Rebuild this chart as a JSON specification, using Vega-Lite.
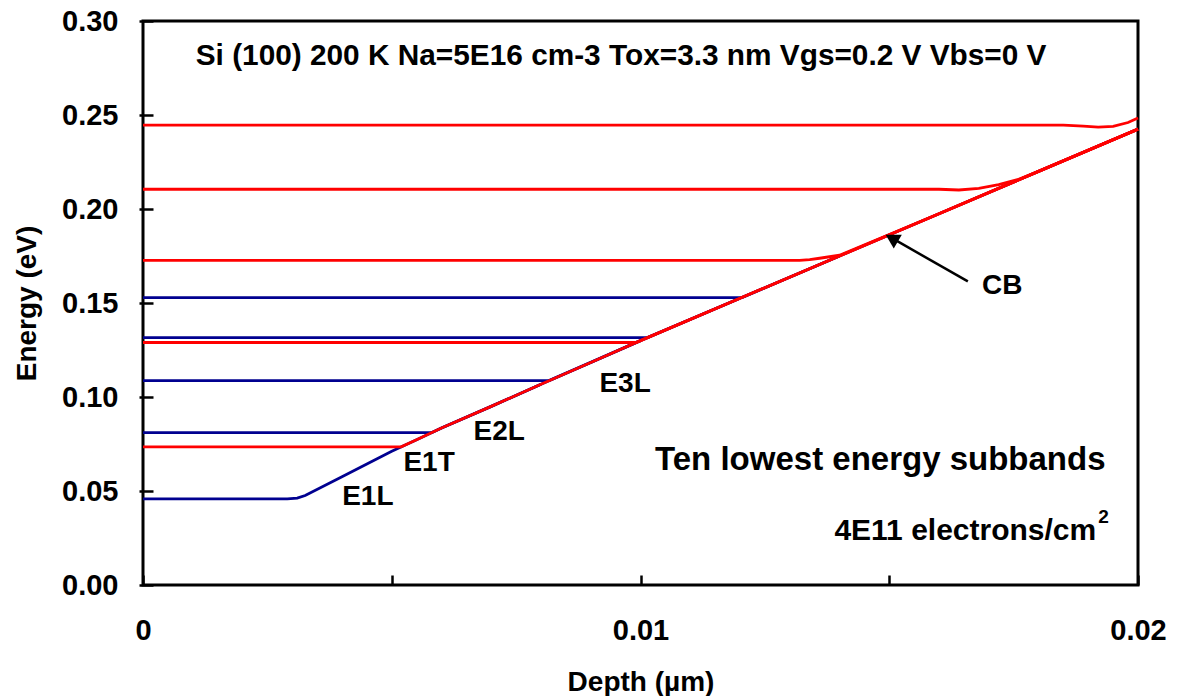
{
  "$schema": "https://vega.github.io/schema/vega-lite/v6.json",
  "autosize": {"type": "none"},
  "padding": {"left": 143, "top": 21, "right": 49, "bottom": 111},
  "width": 995,
  "height": 564,
  "config": {
    "font": "Liberation Sans",
    "view": {"stroke": "black", "strokeWidth": 3},
    "axis": {"grid": false, "domain": false, "labelFont": "Liberation Sans", "titleFont": "Liberation Sans", "labelFontWeight": "bold", "titleFontWeight": "bold", "labelColor": "black", "titleColor": "black", "tickColor": "black"}
  },
  "datasets": {
    "lines": [
      {"s": "b1", "v": "L", "x": 0, "E": 0.0458}, {"s": "b1", "v": "L", "x": 0.0029, "E": 0.0458}, {"s": "b1", "v": "L", "x": 0.0031, "E": 0.0462}, {"s": "b1", "v": "L", "x": 0.00326, "E": 0.0476}, {"s": "b1", "v": "L", "x": 0.004, "E": 0.0576}, {"s": "b1", "v": "L", "x": 0.0045, "E": 0.0644}, {"s": "b1", "v": "L", "x": 0.005, "E": 0.0712}, {"s": "b1", "v": "L", "x": 0.0055, "E": 0.0773}, {"s": "b1", "v": "L", "x": 0.006, "E": 0.0835}, {"s": "b1", "v": "L", "x": 0.007, "E": 0.095}, {"s": "b1", "v": "L", "x": 0.008, "E": 0.1068}, {"s": "b1", "v": "L", "x": 0.009, "E": 0.1184}, {"s": "b1", "v": "L", "x": 0.01, "E": 0.13}, {"s": "b1", "v": "L", "x": 0.012, "E": 0.1525}, {"s": "b1", "v": "L", "x": 0.014, "E": 0.175}, {"s": "b1", "v": "L", "x": 0.016, "E": 0.1975}, {"s": "b1", "v": "L", "x": 0.018, "E": 0.22}, {"s": "b1", "v": "L", "x": 0.02, "E": 0.2425},
      {"s": "b2", "v": "L", "x": 0, "E": 0.081}, {"s": "b2", "v": "L", "x": 0.0058, "E": 0.081}, {"s": "b2", "v": "L", "x": 0.006, "E": 0.0835}, {"s": "b2", "v": "L", "x": 0.007, "E": 0.095}, {"s": "b2", "v": "L", "x": 0.008, "E": 0.1068},
      {"s": "b3", "v": "L", "x": 0, "E": 0.1087}, {"s": "b3", "v": "L", "x": 0.00816, "E": 0.1087}, {"s": "b3", "v": "L", "x": 0.009, "E": 0.1184}, {"s": "b3", "v": "L", "x": 0.01, "E": 0.13},
      {"s": "b4", "v": "L", "x": 0, "E": 0.1316}, {"s": "b4", "v": "L", "x": 0.01014, "E": 0.1316}, {"s": "b4", "v": "L", "x": 0.012, "E": 0.1525},
      {"s": "b5", "v": "L", "x": 0, "E": 0.1529}, {"s": "b5", "v": "L", "x": 0.01204, "E": 0.1529}, {"s": "b5", "v": "L", "x": 0.014, "E": 0.175},
      {"s": "r1", "v": "T", "x": 0, "E": 0.0735}, {"s": "r1", "v": "T", "x": 0.00519, "E": 0.0735}, {"s": "r1", "v": "T", "x": 0.0055, "E": 0.0773}, {"s": "r1", "v": "T", "x": 0.006, "E": 0.0835}, {"s": "r1", "v": "T", "x": 0.007, "E": 0.095}, {"s": "r1", "v": "T", "x": 0.008, "E": 0.1068}, {"s": "r1", "v": "T", "x": 0.009, "E": 0.1184}, {"s": "r1", "v": "T", "x": 0.01, "E": 0.13}, {"s": "r1", "v": "T", "x": 0.012, "E": 0.1525}, {"s": "r1", "v": "T", "x": 0.014, "E": 0.175}, {"s": "r1", "v": "T", "x": 0.016, "E": 0.1975}, {"s": "r1", "v": "T", "x": 0.018, "E": 0.22}, {"s": "r1", "v": "T", "x": 0.02, "E": 0.2425},
      {"s": "r2", "v": "T", "x": 0, "E": 0.129}, {"s": "r2", "v": "T", "x": 0.00991, "E": 0.129}, {"s": "r2", "v": "T", "x": 0.01, "E": 0.13}, {"s": "r2", "v": "T", "x": 0.012, "E": 0.1525}, {"s": "r2", "v": "T", "x": 0.014, "E": 0.175}, {"s": "r2", "v": "T", "x": 0.016, "E": 0.1975}, {"s": "r2", "v": "T", "x": 0.018, "E": 0.22}, {"s": "r2", "v": "T", "x": 0.02, "E": 0.2425},
      {"s": "r3", "v": "T", "x": 0, "E": 0.1727}, {"s": "r3", "v": "T", "x": 0.0132, "E": 0.1727}, {"s": "r3", "v": "T", "x": 0.0134, "E": 0.1731}, {"s": "r3", "v": "T", "x": 0.0136, "E": 0.1738}, {"s": "r3", "v": "T", "x": 0.0138, "E": 0.1746}, {"s": "r3", "v": "T", "x": 0.014, "E": 0.1754}, {"s": "r3", "v": "T", "x": 0.016, "E": 0.1975}, {"s": "r3", "v": "T", "x": 0.018, "E": 0.22}, {"s": "r3", "v": "T", "x": 0.02, "E": 0.2425},
      {"s": "r4", "v": "T", "x": 0, "E": 0.2105}, {"s": "r4", "v": "T", "x": 0.016, "E": 0.2105}, {"s": "r4", "v": "T", "x": 0.0164, "E": 0.2101}, {"s": "r4", "v": "T", "x": 0.0168, "E": 0.211}, {"s": "r4", "v": "T", "x": 0.0172, "E": 0.213}, {"s": "r4", "v": "T", "x": 0.0176, "E": 0.2158}, {"s": "r4", "v": "T", "x": 0.018, "E": 0.22}, {"s": "r4", "v": "T", "x": 0.02, "E": 0.2425},
      {"s": "r5", "v": "T", "x": 0, "E": 0.2446}, {"s": "r5", "v": "T", "x": 0.0185, "E": 0.2446}, {"s": "r5", "v": "T", "x": 0.0189, "E": 0.2441}, {"s": "r5", "v": "T", "x": 0.0192, "E": 0.2435}, {"s": "r5", "v": "T", "x": 0.0195, "E": 0.244}, {"s": "r5", "v": "T", "x": 0.0198, "E": 0.246}, {"s": "r5", "v": "T", "x": 0.02, "E": 0.2484}
    ],
    "arrow": [
      {"x": 0.01658, "E": 0.1615, "x2": 0.0151, "E2": 0.1838}
    ],
    "head": [
      {"x": 0.01505, "E": 0.1845}
    ],
    "big": [
      {"t": "Ten lowest energy subbands", "x": 0.01482, "E": 0.0666}
    ],
    "title": [
      {"t": "Si (100) 200 K Na=5E16 cm-3 Tox=3.3 nm Vgs=0.2 V Vbs=0 V", "x": 0.00961, "E": 0.2814}
    ],
    "names": [
      {"t": "E1L", "x": 0.00452, "E": 0.0469},
      {"t": "E1T", "x": 0.00575, "E": 0.0647},
      {"t": "E2L", "x": 0.00716, "E": 0.0815},
      {"t": "E3L", "x": 0.00969, "E": 0.1071},
      {"t": "CB", "x": 0.01727, "E": 0.1588}
    ],
    "dens": [
      {"t": "4E11 electrons/cm", "x": 0.01916, "E": 0.0288}
    ],
    "sup": [
      {"t": "2", "x": 0.0192, "E": 0.0362}
    ]
  },
  "layer": [
    {
      "data": {"name": "lines"},
      "transform": [{"filter": "datum.v == 'L'"}],
      "mark": {"type": "line", "strokeWidth": 2.8, "color": "#000090"},
      "encoding": {
        "x": {"field": "x", "type": "quantitative", "scale": {"domain": [0, 0.02], "nice": false},
          "axis": {"values": [0, 0.005, 0.01, 0.015, 0.02], "labelExpr": "datum.value == 0 ? '0' : (abs(datum.value - 0.01) < 1e-9 ? '0.01' : (abs(datum.value - 0.02) < 1e-9 ? '0.02' : ''))", "tickSize": -10, "tickWidth": 2.5, "labelFontSize": 29, "labelPadding": 55, "labelBaseline": "middle", "labelFlush": false, "labelOverlap": false, "title": "Depth (µm)", "titleFontSize": 28, "titleY": 97, "titleBaseline": "middle"}},
        "y": {"field": "E", "type": "quantitative", "scale": {"domain": [0, 0.3], "nice": false},
          "axis": {"values": [0, 0.05, 0.1, 0.15, 0.2, 0.25, 0.3], "format": ".2f", "offset": 4, "tickSize": -14, "tickWidth": 2.5, "labelFontSize": 29, "labelPadding": 35, "labelFlush": false, "labelOverlap": false, "title": "Energy (eV)", "titleFontSize": 28, "titleX": -112, "titleBaseline": "middle", "titleAngle": -90}},
        "detail": {"field": "s"},
        "order": {"field": "x"}
      }
    },
    {
      "data": {"name": "lines"},
      "transform": [{"filter": "datum.v == 'T'"}],
      "mark": {"type": "line", "strokeWidth": 2.8, "color": "#FF0000"},
      "encoding": {
        "x": {"field": "x", "type": "quantitative"},
        "y": {"field": "E", "type": "quantitative"},
        "detail": {"field": "s"},
        "order": {"field": "x"}
      }
    },
    {
      "data": {"name": "arrow"},
      "mark": {"type": "rule", "strokeWidth": 2.5, "color": "black"},
      "encoding": {
        "x": {"field": "x", "type": "quantitative"},
        "y": {"field": "E", "type": "quantitative"},
        "x2": {"field": "x2"},
        "y2": {"field": "E2"}
      }
    },
    {
      "data": {"name": "head"},
      "mark": {"type": "point", "shape": "triangle-up", "filled": true, "color": "black", "size": 260, "angle": 300, "opacity": 1},
      "encoding": {
        "x": {"field": "x", "type": "quantitative"},
        "y": {"field": "E", "type": "quantitative"}
      }
    },
    {
      "data": {"name": "title"},
      "mark": {"type": "text", "fontSize": 29.8, "fontWeight": "bold", "color": "black", "align": "center", "baseline": "middle"},
      "encoding": {"x": {"field": "x", "type": "quantitative"}, "y": {"field": "E", "type": "quantitative"}, "text": {"field": "t"}}
    },
    {
      "data": {"name": "big"},
      "mark": {"type": "text", "fontSize": 33, "fontWeight": "bold", "color": "black", "align": "center", "baseline": "middle"},
      "encoding": {"x": {"field": "x", "type": "quantitative"}, "y": {"field": "E", "type": "quantitative"}, "text": {"field": "t"}}
    },
    {
      "data": {"name": "names"},
      "mark": {"type": "text", "fontSize": 28, "fontWeight": "bold", "color": "black", "align": "center", "baseline": "middle"},
      "encoding": {"x": {"field": "x", "type": "quantitative"}, "y": {"field": "E", "type": "quantitative"}, "text": {"field": "t"}}
    },
    {
      "data": {"name": "dens"},
      "mark": {"type": "text", "fontSize": 30, "fontWeight": "bold", "color": "black", "align": "right", "baseline": "middle"},
      "encoding": {"x": {"field": "x", "type": "quantitative"}, "y": {"field": "E", "type": "quantitative"}, "text": {"field": "t"}}
    },
    {
      "data": {"name": "sup"},
      "mark": {"type": "text", "fontSize": 19, "fontWeight": "bold", "color": "black", "align": "left", "baseline": "middle"},
      "encoding": {"x": {"field": "x", "type": "quantitative"}, "y": {"field": "E", "type": "quantitative"}, "text": {"field": "t"}}
    }
  ]
}
